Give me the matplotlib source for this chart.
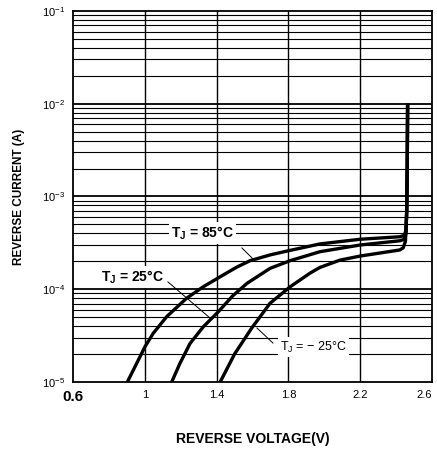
import numpy as np
import matplotlib

matplotlib.use('Agg')
import matplotlib.pyplot as plt

plt.rcParams['font.family'] = ['Liberation Sans', 'DejaVu Sans']
plt.rcParams['mathtext.fontset'] = 'custom'
plt.rcParams['mathtext.rm'] = 'Liberation Sans'
plt.rcParams['mathtext.bf'] = 'Liberation Sans:bold'

# reverse current curves
v_85 = [0.903, 0.955, 1.001, 1.047, 1.122, 1.233, 1.326, 1.419, 1.512, 1.586,
        1.70, 1.80, 1.976, 2.20, 2.42, 2.445, 2.455, 2.459, 2.462, 2.464]
i_85 = [1.0e-5, 1.59e-5, 2.4e-5, 3.35e-5, 5.06e-5, 8.0e-5, 1.065e-4, 1.36e-4, 1.73e-4, 2.03e-4,
        2.35e-4, 2.6e-4, 3.08e-4, 3.46e-4, 3.68e-4, 3.8e-4, 4.3e-4, 7e-4, 2e-3, 1.0e-2]

v_25 = [1.150, 1.196, 1.252, 1.326, 1.410, 1.490, 1.570, 1.698, 1.809, 1.976,
        2.20, 2.42, 2.445, 2.455, 2.459, 2.462, 2.464]
i_25 = [1.0e-5, 1.59e-5, 2.6e-5, 3.94e-5, 5.73e-5, 8.5e-5, 1.16e-4, 1.68e-4, 2.03e-4, 2.54e-4,
        3.0e-4, 3.33e-4, 3.45e-4, 4.0e-4, 7e-4, 2e-3, 1.0e-2]

v_m25 = [1.420, 1.500, 1.595, 1.698, 1.809, 1.920, 1.976, 2.087, 2.20, 2.42,
         2.44, 2.452, 2.458, 2.462, 2.464]
i_m25 = [1.0e-5, 2.0e-5, 3.8e-5, 7.07e-5, 1.06e-4, 1.49e-4, 1.72e-4, 2.06e-4, 2.28e-4, 2.65e-4,
         2.8e-4, 3.3e-4, 6e-4, 2e-3, 1.0e-2]

x_ticks = [0.6, 1.0, 1.4, 1.8, 2.2, 2.6]
x_ticklabels = ['0.6', '1', '1.4', '1.8', '2.2', '2.6']
y_ticks = [1e-5, 1e-4, 1e-3, 1e-2, 1e-1]
y_ticklabels = [r'$10^{-5}$', r'$10^{-4}$', r'$10^{-3}$', r'$10^{-2}$', r'$10^{-1}$']

fig = plt.figure(figsize=(4.37, 4.54), dpi=100)
ax = fig.add_axes([0.167, 0.1586, 0.8216, 0.8172])
ax.set_yscale('log')
ax.set_xlim(0.6, 2.6)
ax.set_ylim(1e-5, 1e-1)

# grid: vertical every 0.4 V, horizontal at every log minor step
for v in x_ticks[1:-1]:
    ax.axvline(v, color='black', lw=1.0, zorder=1)
for dec in range(-5, -1):
    for m in range(2, 10):
        ax.axhline(m * 10.0 ** dec, color='black', lw=0.8, zorder=1)
for y in y_ticks[1:-1]:
    ax.axhline(y, color='black', lw=1.3, zorder=1)

for v, i in [(v_85, i_85), (v_25, i_25), (v_m25, i_m25)]:
    ax.plot(v, i, color='black', lw=2.4, solid_capstyle='butt',
            solid_joinstyle='round', zorder=3)

box = dict(facecolor='white', edgecolor='none', pad=1.5)
ax.text(1.32, 4.05e-4, r'T$_{\mathbf{J}}$ = 85°C', ha='center', va='center',
        fontsize=10, fontweight='bold', bbox=box, zorder=4)
ax.text(0.93, 1.35e-4, r'T$_{\mathbf{J}}$ = 25°C', ha='center', va='center',
        fontsize=10, fontweight='bold', bbox=box, zorder=4)
ax.text(1.94, 2.38e-5, r'T$_{\mathrm{J}}$ = − 25°C', ha='center', va='center',
        fontsize=9, bbox=box, zorder=4)

# leader lines from labels to curves
ax.plot([1.541, 1.603], [2.79e-4, 2.12e-4], color='black', lw=0.7, zorder=2)
ax.plot([1.129, 1.363], [1.2e-4, 4.9e-5], color='black', lw=0.7, zorder=2)
ax.plot([1.714, 1.625], [2.63e-5, 3.82e-5], color='black', lw=0.7, zorder=2)

ax.set_xticks(x_ticks)
ax.set_xticklabels(x_ticklabels, fontsize=8)
ax.set_yticks(y_ticks)
ax.set_yticklabels(y_ticklabels, fontsize=8)
ax.minorticks_off()
ax.tick_params(length=0, pad=6)
xlabels = ax.get_xticklabels()
xlabels[0].set_fontsize(11)
xlabels[0].set_fontweight('bold')
xlabels[-1].set_horizontalalignment('right')

for s in ax.spines.values():
    s.set_linewidth(1.3)

ax.set_ylabel('REVERSE CURRENT (A)', fontsize=8.5, fontweight='bold', labelpad=12)
ax.set_xlabel('REVERSE VOLTAGE(V)', fontsize=10, fontweight='bold', labelpad=20)

fig.savefig('out.png', dpi=100)
